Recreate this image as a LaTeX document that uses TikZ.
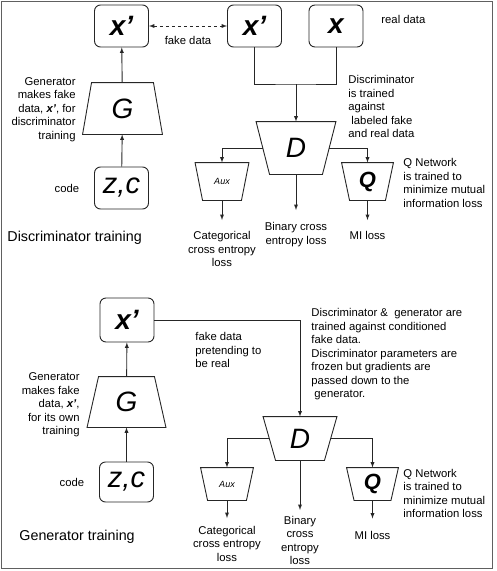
\documentclass[tikz,border=0pt]{standalone}
\usepackage{fontspec}
\setmainfont{Liberation Sans}
\usetikzlibrary{positioning,arrows}

\newcommand\netdraw[2]{\draw ([xshift={-(#2)}]#1.north west) -- ([xshift={#2}]#1.north east)
        -- ([xshift={-(#2)}]#1.south east) -- ([xshift={#2}]#1.south west) -- cycle;}

\begin{document}
\begin{tikzpicture}[x=1pt,y=-1pt,>=latex,line width=0.9pt,draw=black!85,
        databox/.style={draw,rounded corners=6pt,minimum width=54pt,minimum height=42pt,inner sep=0pt,
                        font=\fontsize{28}{28}\selectfont\bfseries\itshape},
        net/.style={inner sep=0pt,font=\fontsize{28}{28}\selectfont\itshape},
        note/.style={inner sep=0pt,font=\fontsize{11.3}{13.5}\selectfont},
        title/.style={inner sep=0pt,font=\fontsize{14.3}{16}\selectfont}]
                \useasboundingbox (0,0) rectangle (497,571);
                \draw[gray!75!black, line width=1.3pt] (1.5,1.5) rectangle (492.5,568.5);

                \node[databox] (xf1)  at (121.5,26)  {x’};
                \node[databox] (xr1)  at (254.5,26)  {x’};
                \node[databox] (xt1)  at (336,26)    {x};
                \node[databox, font=\fontsize{29}{29}\selectfont\itshape] (zc1) at (121.5,188) {z,c};

                \node[net, minimum width=70pt, minimum height=51pt]   (G1)   at (122.5,108.5) {G};
                \node[net, minimum width=65.5pt, minimum height=52pt] (D1)   at (296,148)     {D};
                \node[net, minimum width=45.5pt, minimum height=37pt, font=\fontsize{9}{9}\selectfont\itshape]
                      (Aux1) at (222,181.5)   {Aux};
                \node[net, minimum width=43pt, minimum height=37pt, font=\fontsize{22}{22}\selectfont\bfseries\itshape]
                      (Q1)   at (367.5,181.5) {Q};
                \netdraw{G1}{-4.5}
                \netdraw{D1}{6.75}
                \netdraw{Aux1}{3.75}
                \netdraw{Q1}{4}
                \coordinate (join1) at (296,84);

                \node[note, anchor=west]  (real1)  at (381,19)  {real data};
                \node[note]               (code1)  at (67,188)  {code};
                \node[note, anchor=north east, align=right] (gen1) at (76,77)
                      {Generator\\makes fake\\data, \textbf{\textit{x’}}, for\\discriminator\\training};
                \node[note, anchor=north west, align=left] (disc1) at (348,75)
                      {Discriminator\\is trained\\against\\\hspace{3pt}labeled fake\\and real data};
                \node[note, anchor=north west, align=left] (qnet1) at (403,158)
                      {Q Network\\is trained to\\minimize mutual\\information loss};
                \node[note, anchor=north, align=center] (cce1) at (222,231)  {Categorical\\cross entropy\\loss};
                \node[note, anchor=north, align=center] (bce1) at (296,222)  {Binary cross\\entropy loss};
                \node[note, anchor=north]               (mi1)  at (367.5,231) {MI loss};
                \node[title, anchor=west] (train1) at (7,238) {Discriminator training};

                \draw[<->, dashed] (xf1) -- node[note, below=10pt] (fake1) {fake data} (xr1);
                \draw (xr1.south) |- (join1) -| (xt1.south);
                \path[->]
                (zc1)   edge (G1)
                (G1)    edge (xf1)
                (join1) edge (D1.north)
                (D1.south) edge [shorten >=12pt] (bce1.north)
                (Aux1.south) edge [shorten >=11pt] (cce1.north)
                (Q1.south) edge [shorten >=11pt] (mi1.north);
                \draw[->] (D1.west) -| (Aux1.north);
                \draw[->] (D1.east) -| (Q1.north);

                \node[databox, minimum height=44pt] (xf2) at (127,320) {x’};
                \node[databox, minimum height=40pt, font=\fontsize{29}{29}\selectfont\itshape] (zc2) at (126.5,482) {z,c};

                \node[net, minimum width=66.5pt, minimum height=50pt] (G2)   at (126.5,402)  {G};
                \node[net, minimum width=60.5pt, minimum height=43pt] (D2)   at (300,438.5)  {D};
                \node[net, minimum width=45pt, minimum height=32pt, font=\fontsize{9}{9}\selectfont\itshape]
                      (Aux2) at (227,484)    {Aux};
                \node[net, minimum width=43.5pt, minimum height=32pt, font=\fontsize{22}{22}\selectfont\bfseries\itshape]
                      (Q2)   at (372.5,484)  {Q};
                \netdraw{G2}{-5.75}
                \netdraw{D2}{6.25}
                \netdraw{Aux2}{3.5}
                \netdraw{Q2}{3.75}

                \node[note]               (code2)  at (72,482)  {code};
                \node[note, anchor=north east, align=right] (gen2) at (80,372.5)
                      {Generator\\makes fake\\data, \textbf{\textit{x’}},\\for its own\\training};
                \node[note, anchor=north west, align=left] (fake2) at (195,332)
                      {fake data\\pretending to\\be real};
                \node[note, anchor=north west, align=left] (disc2) at (311,308)
                      {Discriminator \& \ generator are\\trained against conditioned\\fake data.\\Discriminator parameters are\\frozen but gradients are\\passed down to the\\\hspace{3pt}generator.};
                \node[note, anchor=north west, align=left] (qnet2) at (403,468.5)
                      {Q Network\\is trained to\\minimize mutual\\information loss};
                \node[note, anchor=north, align=center] (cce2) at (227,525.5) {Categorical\\cross entropy\\loss};
                \node[note, anchor=north, align=center] (bce2) at (300,515.5) {Binary\\cross\\entropy\\loss};
                \node[note, anchor=north]               (mi2)  at (372.5,530.5) {MI loss};
                \node[title, anchor=west] (train2) at (19,537) {Generator training};

                \path[->]
                (zc2)   edge (G2)
                (G2)    edge (xf2)
                (D2.south) edge [shorten >=5.5pt] (bce2.north)
                (Aux2.south) edge [shorten >=7.5pt] (cce2.north)
                (Q2.south) edge [shorten >=12pt] (mi2.north);
                \draw[->] (xf2.east) -| (D2.north);
                \draw[->] (D2.west) -| (Aux2.north);
                \draw[->] (D2.east) -| (Q2.north);
            \end{tikzpicture}
\end{document}
